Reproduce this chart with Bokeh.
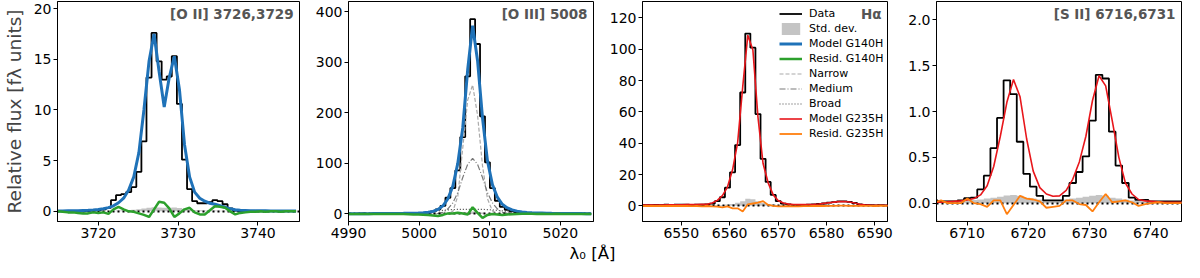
import numpy as np
from bokeh.plotting import figure
from bokeh.models import (Range1d, FixedTicker, Label, Legend, LegendItem,
                          PrintfTickFormatter, ColumnDataSource)
from bokeh.layouts import row, column
from bokeh.embed import file_html
from bokeh.resources import INLINE

# ---------------- data ----------------
# Panel 1: [O II] 3726,3729 (G140H)
oii_wave = [3714.93, 3715.56, 3716.20, 3716.83, 3717.47, 3718.10, 3718.74, 3719.37,
            3720.01, 3720.64, 3721.28, 3721.91, 3722.54, 3723.18, 3723.81, 3724.45,
            3725.09, 3725.72, 3726.36, 3726.99, 3727.62, 3728.26, 3728.89, 3729.53,
            3730.17, 3730.80, 3731.44, 3732.07, 3732.71, 3733.34, 3733.98, 3734.61,
            3735.25, 3735.88, 3736.52, 3737.15, 3737.79, 3738.42, 3739.06, 3739.69,
            3740.33, 3740.96, 3741.60, 3742.23, 3742.87, 3743.50, 3744.14, 3744.77]
oii_flux = [0.05, 0.03, 0.0, 0.04, 0.02, 0.0, 0.05, 0.08,
            0.1, 0.2, 0.35, 1.1, 1.6, 1.7, 1.9, 2.4, 3.9, 6.9, 13.2, 17.6, 14.8, 13.0, 13.3, 15.3,
            10.6, 5.1, 2.2, 1.0, 0.8, 0.8, 0.9, 1.1, 1.0, 0.7, 0.3, 0.08,
            0.03, 0.05, 0.02, 0.0, 0.03, 0.01, 0.02, 0.04, 0.0, 0.02, 0.03, 0.01]
oii_std = [0.05, 0.04, 0.05, 0.05, 0.04, 0.05, 0.05, 0.05, 0.06, 0.06, 0.06, 0.07,
           0.08, 0.1, 0.12, 0.15, 0.2, 0.28, 0.35, 0.4, 0.38, 0.35, 0.35, 0.38, 0.32, 0.25,
           0.18, 0.12, 0.1, 0.08,
           0.08, 0.08, 0.07, 0.06, 0.06, 0.05, 0.05, 0.05, 0.04, 0.05, 0.05, 0.04, 0.05,
           0.05, 0.04, 0.05, 0.05, 0.05]
oii_model = [0.03, 0.04, 0.05, 0.06, 0.07, 0.09, 0.11, 0.14,
             0.19, 0.26, 0.37, 0.55, 0.85, 1.3, 2.1, 3.4, 5.8, 10.0, 14.8, 17.5, 13.8, 10.3,
             13.2, 15.3, 12.0, 6.6, 3.4, 1.9, 1.3, 1.0, 0.8, 0.7, 0.55, 0.4, 0.25, 0.15,
             0.11, 0.09, 0.07, 0.06, 0.05, 0.05, 0.04, 0.04, 0.04, 0.03, 0.03, 0.03]
oii_resid = [0.0, -0.05, -0.1, -0.1, -0.15, -0.2, -0.2, -0.1,
             -0.15, -0.1, -0.25, 0.2, 0.45, 0.2, 0.0, -0.05, -0.2, -0.35, -0.55, 0.2, 0.95,
             0.85, 0.3, -0.55, -0.2, 0.2, 0.35, -0.1, -0.3, -0.3, 0.1, 0.5, 0.45, 0.35, 0.0,
             -0.3, -0.15, -0.1, -0.05, -0.05, 0.0, -0.05, 0.0, 0.0, -0.05, 0.0, 0.0, 0.0]

# Panel 2: [O III] 5008 (G140H) with components
oiii_wave = [4990.08, 4990.78, 4991.48, 4992.18, 4992.88, 4993.58, 4994.28, 4994.98,
             4995.68, 4996.38, 4997.08, 4997.78, 4998.48, 4999.18, 4999.88, 5000.58,
             5001.28, 5001.98, 5002.68, 5003.38, 5004.08, 5004.78, 5005.48, 5006.18,
             5006.88, 5007.58, 5008.28, 5008.98, 5009.68, 5010.38, 5011.08, 5011.78,
             5012.48, 5013.18, 5013.88, 5014.58, 5015.28, 5015.98, 5016.68, 5017.38,
             5018.08, 5018.78, 5019.48, 5020.18, 5020.88, 5021.58, 5022.28, 5022.98,
             5023.68, 5024.38]
oiii_flux = [0.5, 0, 0.5, 1, 0, 0.5, 0.5, 1, 0, 0.5, 1, 1, 0.5, 1, 1.5,
             2, 3, 5, 9, 16, 32, 51, 86, 152, 272, 385, 336, 193, 102, 51, 26, 14, 8, 5, 3,
             2, 1.5, 1,
             1, 0.5, 0.5, 1, 0, 0.5, 0.5, 0, 0.5, 0, 0.5, 0]
oiii_std = [0.5] * 23 + [3, 4, 5, 4, 3] + [0.5] * 22
oiii_model = [0.4, 0.4, 0.5, 0.5, 0.5, 0.6, 0.6, 0.7, 0.8, 0.9, 1.0, 1.1, 1.3, 1.5, 1.8,
              2.3, 3.2, 5, 9, 16, 30, 55, 100, 170, 285, 372, 303, 190, 105, 58, 33, 19, 12,
              8, 5.5, 4, 3, 2.3,
              1.9, 1.6, 1.3, 1.1, 1.0, 0.9, 0.8, 0.7, 0.6, 0.6, 0.5, 0.5]
oiii_narrow = [0] * 20 + [0.5, 5, 35, 130, 225, 255, 195, 95, 30, 6, 1] + [0] * 19
oiii_medium = [0] * 18 + [1, 3, 10, 22, 42, 72, 98, 110, 98, 72, 42, 22, 10, 3, 1] + [0] * 17
oiii_broad = [0] * 13 + [0.5, 1, 2, 3, 4.5, 6, 7, 8, 8.5, 9, 9, 9, 9, 9, 9, 8.5, 8, 7, 6,
                         4.5, 3, 2, 1, 0.5] + [0] * 13
oiii_resid = [0, 0, 0, 0, 0, 0, 0, 0, 0, 0, 0, 0, -0.5, -1,
              -1, -1.5, -2, -3, -4, -2, 1, 1, 2.5, 1, -1, 13, 2, -8, -2, 0, -1, -2, -1, -0.5,
              0, 0.5, 0.5, 0.5,
              0, 0.5, 0, 0, 0.5, 0, 0, 0, 0, 0, 0, 0]

# Panel 3: H-alpha (G235H)
ha_wave = [6541.70, 6542.75, 6543.80, 6544.85, 6545.90, 6546.95, 6548.00, 6549.05,
           6550.10, 6551.15, 6552.20, 6553.25, 6554.30, 6555.35, 6556.40, 6557.45,
           6558.50, 6559.55, 6560.60, 6561.65, 6562.70, 6563.75, 6564.80, 6565.85,
           6566.90, 6567.95, 6569.00, 6570.05, 6571.10, 6572.15, 6573.20, 6574.25,
           6575.30, 6576.35, 6577.40, 6578.45, 6579.50, 6580.55, 6581.60, 6582.65,
           6583.70, 6584.75, 6585.80, 6586.85, 6587.90, 6588.95, 6590.00, 6591.05,
           6592.10, 6593.15]
ha_flux = [0.3, 0.5, 0.4, 0.6, 0.5, 0.7, 0.6, 0.8, 0.7, 0.8, 0.6, 0.8, 0.7,
           0.9, 1.4, 3, 5.5, 11.6, 21.4, 38.8, 72.4, 110, 101, 58.6, 30, 15.3, 7, 3, 1.4, 0.9,
           0.6, 0.5, 0.6, 0.7, 0.9, 1.2, 1.5, 2.0, 2.4, 2.8, 2.9, 2.5, 1.8, 1.0, 0.6, 0.4,
           0.3, 0.4, 0.3, 0.3]
ha_std = [0.3, 0.3, 0.3, 0.3, 0.3, 0.3, 0.3, 0.3, 0.3, 0.3, 0.3, 0.3, 0.35, 0.35, 0.4,
          0.5, 0.6, 0.8, 1.2, 2.0, 3.0, 4.5, 4.2, 3.0, 2.0, 1.2, 0.8, 0.5,
          0.4, 0.35, 0.3, 0.3, 0.3, 0.3, 0.3, 0.3, 0.3, 0.3, 0.3, 0.3, 0.3, 0.3, 0.3, 0.3,
          0.3, 0.3, 0.3, 0.3, 0.3, 0.3]
ha_model = [0.5, 0.5, 0.5, 0.55, 0.55, 0.6, 0.6, 0.65, 0.7, 0.75, 0.8, 0.85, 0.95,
            1.0, 1.8, 3.5, 6.5, 12, 23, 40.4, 76, 109, 99.5, 56.6, 27, 14.7, 7, 3.3, 1.8, 1.1,
            0.9, 0.8, 0.8, 0.9, 1.0, 1.2, 1.6, 2.0, 2.4, 2.7, 2.8, 2.5, 1.8, 1.0, 0.6, 0.45,
            0.4, 0.35, 0.3, 0.3]
ha_resid = [0.0, -0.1, -0.1, 0.0, -0.1, 0.0, -0.1, 0.0, -0.1, 0.0, -0.2, -0.1, -0.3,
            -0.1, -0.4, -0.5, -1.0, -0.4, -1.6, -1.6, -3.6, 1.0, 1.5, 2.0, 3.0, 0.6, 0.0,
            -0.3, -0.4, -0.2,
            -0.3, -0.3, -0.2, -0.2, -0.1, 0.0, -0.1, 0.0, 0.0, 0.1, 0.1, 0.0, 0.0, 0.0, 0.0,
            -0.05, -0.1, 0.05, 0.0, 0.0]

# Panel 4: [S II] 6716,6731 (G235H)
sii_wave = [6704.67, 6705.74, 6706.82, 6707.89, 6708.97, 6710.04, 6711.12, 6712.19,
            6713.27, 6714.34, 6715.42, 6716.49, 6717.57, 6718.64, 6719.72, 6720.79,
            6721.87, 6722.94, 6724.02, 6725.09, 6726.17, 6727.24, 6728.32, 6729.39,
            6730.47, 6731.54, 6732.62, 6733.69, 6734.77, 6735.84, 6736.92, 6737.99,
            6739.07, 6740.14, 6741.22, 6742.29, 6743.37, 6744.44, 6745.52]
sii_flux = [0.03, 0.02, 0.02, 0.02, 0.03, 0.055, 0.06, 0.15, 0.3, 0.6, 0.93, 1.34, 1.19,
            0.67, 0.32, 0.18, 0.08, 0.03, 0.03, 0.03, 0.08, 0.22, 0.34, 0.51, 0.9, 1.40,
            1.36, 0.78, 0.41, 0.22, 0.06, 0.035, 0.035, 0.02, 0.02, 0.02, 0.02, 0.02, 0.02]
sii_std = [0.03, 0.03, 0.03, 0.03, 0.03, 0.03, 0.035, 0.04, 0.05, 0.06, 0.07, 0.085, 0.09,
           0.08, 0.06, 0.05, 0.04, 0.035, 0.03, 0.035, 0.04, 0.05, 0.06, 0.07, 0.08, 0.09,
           0.08, 0.06, 0.05, 0.04, 0.03, 0.025, 0.02, 0.02, 0.02, 0.02, 0.02, 0.02, 0.02]
sii_model = [0.01, 0.01, 0.015, 0.02, 0.025, 0.035, 0.05, 0.09, 0.19, 0.4, 0.73, 1.1, 1.35,
             1.16, 0.7, 0.35, 0.17, 0.1, 0.075, 0.08, 0.14, 0.26, 0.45, 0.73, 1.12, 1.39,
             1.28, 0.9, 0.5, 0.22, 0.1, 0.04, 0.025, 0.02, 0.015, 0.01, 0.01, 0.01, 0.01]
sii_resid = [0.01, 0.03, 0.0, 0.0, 0.0, 0.05, 0.0, -0.01, -0.04, 0.03, 0.03, -0.12, -0.02,
             0.08, 0.05, 0.04, 0.02, -0.05, -0.04, -0.03, 0.03, 0.03, -0.01, -0.02, -0.09,
             0.01, 0.1, 0.01, 0.02, 0.03, 0.01, -0.03, -0.01, 0.0, 0.01, 0.0, 0.0, 0.0, 0.0]

# titles, ranges and ticks
panel_titles = ["[O II] 3726,3729", "[O III] 5008", "H\u03b1", "[S II] 6716,6731"]
oii_xticks, oii_yticks = [3720, 3730, 3740], [0, 5, 10, 15, 20]
oiii_xticks, oiii_yticks = [4990, 5000, 5010, 5020], [0, 100, 200, 300, 400]
ha_xticks, ha_yticks = [6550, 6560, 6570, 6580, 6590], [0, 20, 40, 60, 80, 100, 120]
sii_xticks, sii_yticks = [6710, 6720, 6730, 6740], [0.0, 0.5, 1.0, 1.5, 2.0]
legend_labels = ["Data", "Std. dev.", "Model G140H", "Resid. G140H", "Narrow", "Medium",
                 "Broad", "Model G235H", "Resid. G235H"]
y_label = "Relative flux [f\u03bb units]"
x_label = "\u03bb\u2080 [\u00c5]"

# ---------------- style ----------------
FONT = "DejaVu Sans"
TICK_FS = "14px"
C_STD = "#c4c4c4"
C_BLUE = "#1f72b8"
C_GREEN = "#2ca02c"
C_RED = "#e8161b"
C_ORANGE = "#ff7f0e"
C_NARROW = "#aaaaaa"
C_MED = "#7a7a7a"
C_BROAD = "#444444"
C_TITLE = "#555555"

FRAME_W = 245
FRAME_H = 220
TOP = 1
BOTTOM = 23
FX_H = 18
FIG_H = TOP + FRAME_H + BOTTOM
LEG_ROW = 15


def make_panel(left, right, xr, yr, xticks, yticks, title):
    p = figure(width=left + FRAME_W + right, height=FIG_H,
               x_range=Range1d(*xr), y_range=Range1d(*yr),
               output_backend="svg", toolbar_location=None,
               min_border_left=left, min_border_right=right,
               min_border_top=TOP, min_border_bottom=BOTTOM)
    p.grid.visible = False
    p.outline_line_color = "black"
    p.outline_line_alpha = 1.0
    p.outline_line_width = 1
    p.background_fill_color = "white"
    p.border_fill_color = "white"
    for ax, ticks in ((p.xaxis[0], xticks), (p.yaxis[0], yticks)):
        ax.ticker = FixedTicker(ticks=ticks)
        ax.major_label_text_font = FONT
        ax.major_label_text_font_size = TICK_FS
        ax.major_label_text_color = "black"
        ax.major_tick_out = 4
        ax.major_tick_in = 0
        ax.minor_tick_out = 0
        ax.minor_tick_in = 0
        ax.axis_line_color = "black"
        ax.major_tick_line_color = "black"
        ax.major_label_standoff = 2
    dx = (xr[1] - xr[0]) / FRAME_W
    dy = (yr[1] - yr[0]) / FRAME_H
    p.add_layout(Label(x=xr[1] - 6 * dx, y=yr[1] - 4 * dy, text=title,
                       text_align="right", text_baseline="top", text_font=FONT,
                       text_font_style="bold", text_font_size="13.5px",
                       text_color=C_TITLE))
    return p


def draw_common(p, wave, flux, std, model, resid, mcolor, mwidth, rcolor, rwidth,
                comps=None):
    src = ColumnDataSource(dict(x=wave, flux=flux, std=std, model=model, resid=resid))
    r_std = p.varea_step(x="x", y1=0, y2="std", step_mode="center", source=src,
                         fill_color=C_STD, fill_alpha=1.0)
    r_data = p.step(x="x", y="flux", mode="center", source=src, line_color="black",
                    line_width=1.8)
    if comps is not None:
        csrc = ColumnDataSource(dict(x=wave, n=comps[0], m=comps[1], b=comps[2]))
        p.line("x", "n", source=csrc, line_color=C_NARROW, line_width=1.2, line_dash="4 2")
        p.line("x", "m", source=csrc, line_color=C_MED, line_width=1.2, line_dash="6 2 1 2")
        p.line("x", "b", source=csrc, line_color=C_BROAD, line_width=1.2, line_dash="1 2")
    p.hspan(y=[0], line_color="black", line_width=2, line_dash="2 3")
    r_model = p.line("x", "model", source=src, line_color=mcolor, line_width=mwidth)
    r_resid = p.line("x", "resid", source=src, line_color=rcolor, line_width=rwidth)
    return r_data, r_std, r_model, r_resid


# Panel 1
p1 = make_panel(54, 9, (3714.9, 3745.2), (-1.0, 20.7), oii_xticks, oii_yticks,
                panel_titles[0])
draw_common(p1, oii_wave, oii_flux, oii_std, oii_model, oii_resid,
            C_BLUE, 3, C_GREEN, 2.5)
p1.yaxis[0].axis_label = y_label
p1.yaxis[0].axis_label_text_font = FONT
p1.yaxis[0].axis_label_text_font_size = "18.5px"
p1.yaxis[0].axis_label_text_font_style = "normal"
p1.yaxis[0].axis_label_standoff = 6

# Panel 2
p2 = make_panel(40, 9, (4990, 5024.7), (-15, 420), oiii_xticks, oiii_yticks,
                panel_titles[1])
draw_common(p2, oiii_wave, oiii_flux, oiii_std, oiii_model, oiii_resid,
            C_BLUE, 3, C_GREEN, 2.5, comps=(oiii_narrow, oiii_medium, oiii_broad))

# Panel 3
p3 = make_panel(40, 9, (6542, 6592.6), (-10, 130.5), ha_xticks, ha_yticks,
                panel_titles[2])
r_data, r_std, r_model, r_resid = draw_common(p3, ha_wave, ha_flux, ha_std, ha_model,
                                              ha_resid, C_RED, 1.6, C_ORANGE, 1.8)
# legend-only renderers (styles of the other panels' lines; no visible points)
dummy = ColumnDataSource(dict(x=np.array([np.nan]), y=np.array([np.nan])))
d_bm = p3.line("x", "y", source=dummy, line_color=C_BLUE, line_width=3)
d_gr = p3.line("x", "y", source=dummy, line_color=C_GREEN, line_width=2.5)
d_n = p3.line("x", "y", source=dummy, line_color=C_NARROW, line_width=1.2, line_dash="4 2")
d_m = p3.line("x", "y", source=dummy, line_color=C_MED, line_width=1.2, line_dash="6 2 1 2")
d_b = p3.line("x", "y", source=dummy, line_color=C_BROAD, line_width=1.2, line_dash="1 2")
rends = [r_data, r_std, d_bm, d_gr, d_n, d_m, d_b, r_model, r_resid]
leg_h = LEG_ROW * len(legend_labels)
legend = Legend(items=[LegendItem(label=lab, renderers=[r])
                       for lab, r in zip(legend_labels, rends)],
                location=(137, FRAME_H - 5 - leg_h), border_line_alpha=0,
                background_fill_alpha=0,
                label_text_font=FONT, label_text_font_size="11px", label_text_color="black",
                glyph_width=23, glyph_height=LEG_ROW, label_height=LEG_ROW,
                label_standoff=7, spacing=0, padding=0, margin=0)
p3.add_layout(legend)

# Panel 4
p4 = make_panel(40, 1, (6705, 6745), (-0.2, 2.2), sii_xticks, sii_yticks, panel_titles[3])
draw_common(p4, sii_wave, sii_flux, sii_std, sii_model, sii_resid,
            C_RED, 1.6, C_ORANGE, 1.8)
p4.yaxis[0].formatter = PrintfTickFormatter(format="%.1f")

TOTAL_W = p1.width + p2.width + p3.width + p4.width
fx = figure(width=TOTAL_W, height=FX_H, x_range=Range1d(0, TOTAL_W),
            y_range=Range1d(0, FX_H), output_backend="svg", toolbar_location=None,
            x_axis_location=None, y_axis_location=None, min_border=0)
fx.grid.visible = False
fx.outline_line_color = None
fx.add_layout(Label(x=592, y=FX_H / 2, text=x_label, text_align="center",
                    text_baseline="middle", text_font=FONT, text_font_size="16.5px",
                    text_color="black"))

layout = column(row(p1, p2, p3, p4), fx)
open("out.html", "w").write(file_html(layout, INLINE))
